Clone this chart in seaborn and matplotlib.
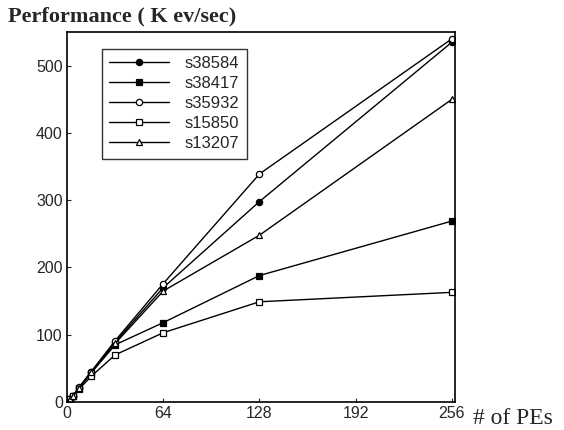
import numpy as np
import pandas as pd
import seaborn as sns
import matplotlib
matplotlib.use("Agg")
import matplotlib.pyplot as plt

pes = [1, 2, 4, 8, 16, 32, 64, 128, 256]
s38584 = [2, 4, 9, 21, 44, 89, 170, 298, 535]
s38417 = [2, 4, 9, 21, 43, 85, 118, 188, 269]
s35932 = [2, 4, 9, 22, 45, 91, 176, 339, 540]
s15850 = [2, 4, 9, 19, 38, 70, 103, 149, 163]
s13207 = [2, 4, 9, 21, 44, 87, 165, 248, 450]

names = ['s38584', 's38417', 's35932', 's15850', 's13207']
series = [s38584, s38417, s35932, s15850, s13207]
markers = ['o', 's', 'o', 's', '^']
fills = ['black', 'black', 'white', 'white', 'white']

xticks = [0, 64, 128, 192, 256]
yticks = [0, 100, 200, 300, 400, 500]

sns.set_style("ticks")
plt.rcParams['font.family'] = ['Liberation Sans', 'DejaVu Sans']

fig = plt.figure(figsize=(5.64, 4.30), dpi=100)
ax = fig.add_axes([67 / 564, 28 / 430, 388 / 564, 370 / 430])

for name, vals, m, fc in zip(names, series, markers, fills):
    df = pd.DataFrame({'PEs': pes, 'perf': vals})
    sns.lineplot(data=df, x='PEs', y='perf', ax=ax, color='black', lw=1.0,
                 marker=m, markersize=4.5, markerfacecolor=fc,
                 markeredgecolor='black', markeredgewidth=0.9, label=name)

ax.set_xlim(0, 258)
ax.set_ylim(0, 550)
ax.set_xticks(xticks)
ax.set_yticks(yticks)
ax.tick_params(direction='in', length=3, width=0.8, labelsize=11.5, pad=3)
for sp in ax.spines.values():
    sp.set_visible(True)
    sp.set_linewidth(1.2)
    sp.set_color('black')
ax.set_xlabel('')
ax.set_ylabel('')

leg = ax.legend(loc='upper left', bbox_to_anchor=(0.09, 0.955), frameon=True,
                fancybox=False, edgecolor='black', fontsize=12,
                handlelength=3.6, borderpad=0.45, labelspacing=0.3,
                handletextpad=0.9, borderaxespad=0)
leg.get_frame().set_linewidth(1.0)

fig.text(8 / 564, 1 - 16 / 430, 'Performance ( K ev/sec)', fontsize=16,
         fontweight='bold', family=['Liberation Serif', 'DejaVu Serif'],
         va='center', ha='left')
fig.text(473 / 564, 1 - 418 / 430, '# of PEs', fontsize=17,
         family=['Liberation Serif', 'DejaVu Serif'], va='center', ha='left')

fig.savefig('out.png', dpi=100)
